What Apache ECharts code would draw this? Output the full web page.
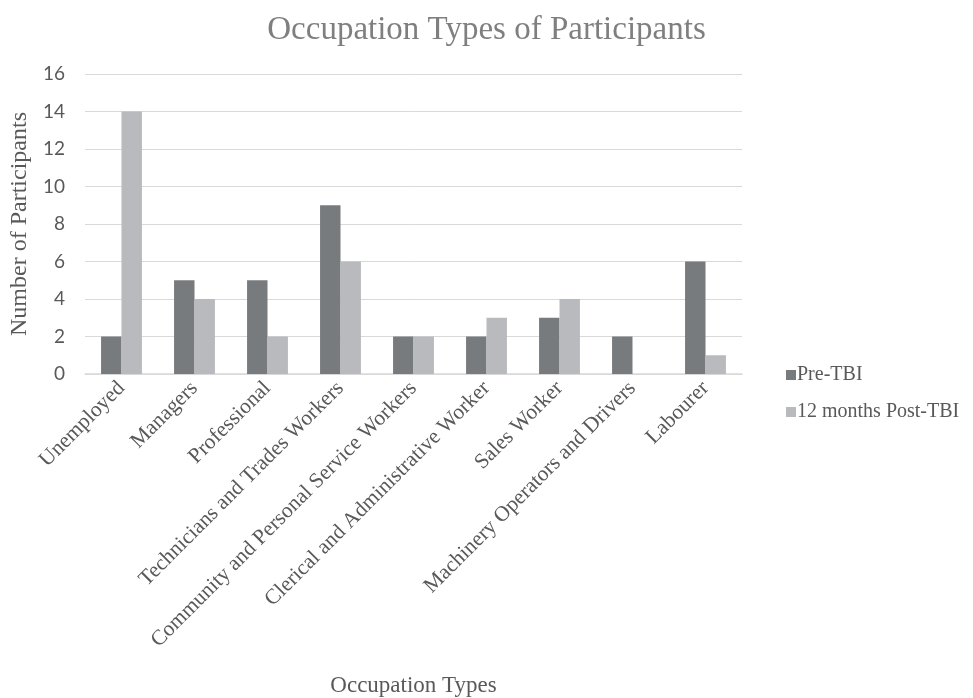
<!DOCTYPE html>
<html><head><meta charset="utf-8">
<script src="https://cdn.jsdelivr.net/npm/echarts@6/dist/echarts.min.js"></script>
<style>html,body{margin:0;padding:0;background:#fff}#c{width:973px;height:698px}</style>
</head><body><div id="c"></div>
<script>
const categories = ["Unemployed","Managers","Professional","Technicians and Trades Workers","Community and Personal Service Workers","Clerical and Administrative Worker","Sales Worker","Machinery Operators and Drivers","Labourer"];
const preTBI = [2,5,5,9,2,2,3,2,6];
const post12 = [14,4,2,6,2,3,4,0,1];
const seriesNames = ["Pre-TBI","12 months Post-TBI"];
const yTicks = [0,2,4,6,8,10,12,14,16];

const serif = '"Liberation Serif","Times New Roman",serif';
const chart = echarts.init(document.getElementById('c'));
chart.setOption({
  animation:false,
  title:{text:"Occupation Types of Participants",left:'center',top:9,
    textStyle:{fontFamily:serif,fontSize:33,fontWeight:'normal',color:'#7f7f7f'}},
  legend:{orient:'vertical',left:781,top:360,itemWidth:10,itemHeight:10,itemGap:17,
    icon:'rect',data:seriesNames,
    textStyle:{fontFamily:serif,fontSize:20,color:'#595959',padding:[0,0,0,-4]}},
  grid:{left:85,right:231,top:74,bottom:324,containLabel:false},
  xAxis:{type:'category',data:categories,
    axisLine:{lineStyle:{color:'#d9d9d9',width:1.5}},axisTick:{show:false},
    axisLabel:{rotate:45,interval:0,margin:11,fontFamily:serif,fontSize:21.5,color:'#595959'},
    name:"Occupation Types",nameLocation:'middle',nameGap:300,
    nameTextStyle:{fontFamily:serif,fontSize:23,color:'#595959'}},
  yAxis:{type:'value',min:0,max:16,interval:2,
    axisLine:{show:false},axisTick:{show:false},
    splitLine:{lineStyle:{color:'#d9d9d9',width:1}},
    axisLabel:{fontFamily:'Lato,"Liberation Sans",sans-serif',fontSize:19,color:'#595959',margin:20,
      formatter:v=>yTicks.includes(v)?String(v):''},
    name:"Number of Participants",nameLocation:'middle',nameGap:52,
    nameTextStyle:{fontFamily:serif,fontSize:24,color:'#595959'}},
  series:[
    {name:seriesNames[0],type:'bar',data:preTBI,barGap:'0%',barCategoryGap:'44%',
      itemStyle:{color:'#787b7e'}},
    {name:seriesNames[1],type:'bar',data:post12,
      itemStyle:{color:'#b9babd'}}
  ]
});
</script></body></html>
